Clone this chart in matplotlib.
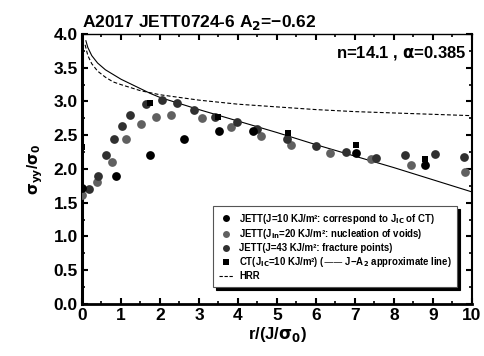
import matplotlib
matplotlib.use("Agg")
import matplotlib.pyplot as plt
from matplotlib.lines import Line2D
from matplotlib.ticker import MultipleLocator, FormatStrFormatter

plt.rcParams['font.family'] = ['Liberation Sans', 'DejaVu Sans']
plt.rcParams['font.weight'] = 'bold'
plt.rcParams['mathtext.default'] = 'bf'

# JETT J=10 (black)
r_j10 = [0.0, 0.87, 1.75, 2.62, 3.52, 4.38, 7.03, 8.80]
s_j10 = [1.72, 1.90, 2.21, 2.44, 2.57, 2.56, 2.24, 2.06]
# JETT Jin=20 (medium gray)
r_j20 = [0.0, 0.38, 0.76, 1.14, 1.52, 1.91, 2.29, 3.07, 3.82, 4.59, 5.35, 6.37, 7.40, 8.43, 9.83]
s_j20 = [1.62, 1.80, 2.10, 2.44, 2.66, 2.77, 2.80, 2.75, 2.62, 2.49, 2.36, 2.23, 2.15, 2.06, 1.95]
# JETT J=43 (dark gray)
r_j43 = [0.19, 0.40, 0.61, 0.81, 1.02, 1.22, 1.64, 2.04, 2.43, 2.86, 3.41, 3.97, 4.50, 5.25,
         6.01, 6.77, 7.53, 8.28, 9.05, 9.80]
s_j43 = [1.71, 1.89, 2.21, 2.44, 2.64, 2.80, 2.96, 3.02, 2.98, 2.88, 2.77, 2.69, 2.59, 2.45,
         2.34, 2.25, 2.17, 2.21, 2.22, 2.18]
# CT squares
r_ct = [0.0, 1.74, 3.50, 5.27, 7.03, 8.79]
s_ct = [2.33, 2.98, 2.77, 2.54, 2.36, 2.15]
# J-A2 approximate line
r_ja2 = [0.10, 0.15, 0.25, 0.40, 0.60, 0.80, 1.00, 1.25, 1.50, 1.75, 2.00, 2.50, 3.00,
         4.00, 5.00, 6.00, 7.00, 8.00, 9.00, 10.0]
s_ja2 = [3.90, 3.80, 3.68, 3.57, 3.47, 3.40, 3.33, 3.26, 3.19, 3.12, 3.06, 2.97, 2.88,
         2.71, 2.54, 2.36, 2.19, 2.02, 1.84, 1.66]
# HRR
r_hrr = [0.08, 0.15, 0.25, 0.40, 0.60, 0.80, 1.00, 1.50, 2.00, 3.00, 4.00, 5.00, 6.00,
         7.00, 8.00, 9.00, 10.0]
s_hrr = [3.84, 3.68, 3.56, 3.45, 3.36, 3.29, 3.25, 3.16, 3.10, 3.02, 2.96, 2.92, 2.88,
         2.85, 2.83, 2.81, 2.79]

c_black = '#000000'
c_gray = '#606060'
c_dark = '#303030'

fig = plt.figure(figsize=(4.84, 3.56), dpi=100)
ax = fig.add_axes([0.1694, 0.1461, 0.8058, 0.7584])

ax.plot(r_hrr, s_hrr, color='black', lw=0.8, ls=(0, (3.5, 2)), zorder=2)
ax.plot(r_ja2, s_ja2, color='black', lw=0.8, zorder=2)
ax.plot(r_j20, s_j20, 'o', color=c_gray, ms=6.3, mew=0, zorder=3)
ax.plot(r_j43, s_j43, 'o', color=c_dark, ms=6.3, mew=0, zorder=3)
ax.plot(r_j10, s_j10, 'o', color=c_black, ms=6.3, mew=0, zorder=4)
ax.plot(r_ct, s_ct, 's', color=c_black, ms=5, mew=0, zorder=5)

ax.set_xlim(0, 10)
ax.set_ylim(0, 4.0)
ax.xaxis.set_major_locator(MultipleLocator(1))
ax.xaxis.set_minor_locator(MultipleLocator(0.5))
ax.yaxis.set_major_locator(MultipleLocator(0.5))
ax.yaxis.set_minor_locator(MultipleLocator(0.25))
ax.yaxis.set_major_formatter(FormatStrFormatter('%.1f'))
ax.tick_params(which='both', direction='in', top=True, right=True, labelsize=12.5, pad=3)
ax.tick_params(which='major', length=4, width=1.5)
ax.tick_params(which='minor', length=2.5, width=1.2)
for lab in ax.get_xticklabels() + ax.get_yticklabels():
    lab.set_fontweight('bold')

ax.spines['left'].set_linewidth(2.2)
ax.spines['bottom'].set_linewidth(2.0)
ax.spines['top'].set_linewidth(1.0)
ax.spines['right'].set_linewidth(1.5)

ax.set_xlabel(r'r/(J/$\sigma_0$)', fontsize=12, fontweight='bold', labelpad=1)
ax.set_ylabel(r'$\sigma_{yy}$/$\sigma_0$', fontsize=11, fontweight='bold', labelpad=6)

fig.text(0.17, 0.925, r'A2017 JETT0724-6 A$_2$=−0.62', fontsize=12.5, fontweight='bold',
         ha='left', va='baseline')
ax.text(0.985, 0.93, r'n=14.1 , $\alpha$=0.385', transform=ax.transAxes, fontsize=12,
        fontweight='bold', ha='right', va='center')

handles = [
    Line2D([], [], marker='o', ls='none', color=c_black, ms=5, mew=0),
    Line2D([], [], marker='o', ls='none', color=c_gray, ms=5, mew=0),
    Line2D([], [], marker='o', ls='none', color=c_dark, ms=5, mew=0),
    Line2D([], [], marker='s', ls='none', color=c_black, ms=4.5, mew=0),
    Line2D([], [], color='black', lw=0.8, ls=(0, (3, 1.5))),
]
labels = [
    r'JETT(J=10 KJ/m²: correspond to J$_{IC}$ of CT)',
    r'JETT(J$_{in}$=20 KJ/m²: nucleation of voids)',
    r'JETT(J=43 KJ/m²: fracture points)',
    r'CT(J$_{IC}$=10 KJ/m²) (—— J−A$_2$ approximate line)',
    'HRR',
]
leg = ax.legend(handles, labels, loc='lower left', bbox_to_anchor=(0.336, 0.063),
                prop={'size': 6.9, 'weight': 'bold'}, frameon=True, fancybox=False,
                shadow={'color': 'black', 'alpha': 1.0}, handlelength=1.5,
                handletextpad=0.6, labelspacing=0.2, borderpad=0.6, borderaxespad=0)
leg.get_frame().set_edgecolor('#555555')
leg.get_frame().set_linewidth(0.8)

fig.savefig('out.png', dpi=100)
